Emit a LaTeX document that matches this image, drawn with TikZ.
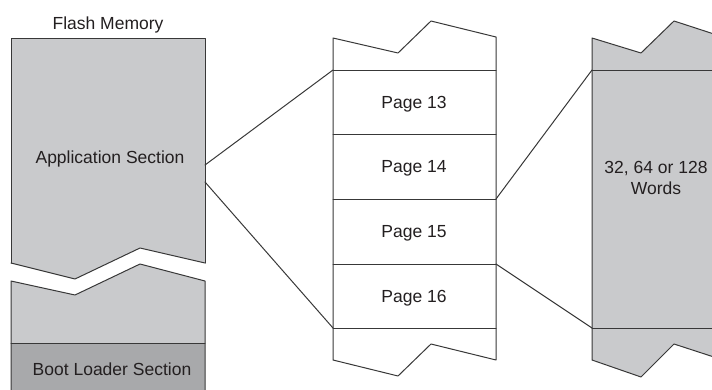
\documentclass[tikz,border=0pt]{standalone}
\usepackage{fontspec}
\setmainfont{Liberation Sans}
\definecolor{flashgray}{HTML}{C9CACC}
\definecolor{bootgray}{HTML}{A8A9AB}
\definecolor{edgegray}{HTML}{383838}
\definecolor{inkgray}{HTML}{231F20}
\begin{document}
\begin{tikzpicture}[line cap=round, line join=round, x=1pt, y=-1pt, font=\fontsize{17.5}{21}\selectfont]
	\tikzset{edge/.style={draw=edgegray, line width=1pt},
		lbl/.style={inner sep=0pt, anchor=base, text=inkgray}}
	\useasboundingbox (0,0) rectangle (712,389);
	\clip (0,0) rectangle (712,389);
	% flash memory column
	\fill[flashgray] (11,38)--(205,38)--(205,263)--(140,248)--(75,279)--(11,263)--cycle;
	\draw[edge] (11,263)--(11,38)--(205,38)--(205,263);
	\draw[edge] (11,263)--(75,279)--(140,248)--(205,263);
	\fill[flashgray] (11,281)--(75,295)--(140,264)--(205,281)--(205,343)--(11,343)--cycle;
	\fill[bootgray] (11,343) rectangle (205,395);
	\draw[edge] (11,395)--(11,281)--(75,295)--(140,264)--(205,281)--(205,395);
	\draw[edge] (11,343)--(205,343);
	\node[lbl] (flash) at (108,29) {Flash Memory};
	\node[lbl] (app) at (110,163) {Application Section};
	\node[lbl] (boot) at (112,375) {Boot Loader Section};
	% page column
	\draw[edge, fill=white] (333,38)--(398,53)--(431,21)--(496,37)--(496,360)--(431,344)--(398,376)--(333,360)--cycle;
	\foreach \y in {70,134,199,264,328}
		\draw[edge] (333,\y)--(496,\y);
	\foreach \n/\y in {13/108,14/172,15/237,16/302}
		\node[lbl] (page\n) at (414,\y) {Page \n};
	% words column
	\draw[edge, fill=flashgray] (760,49)--(674,21)--(641,53)--(592,38)--(592,360)--(641,377)--(674,344)--(760,372)--cycle;
	\draw[edge] (592,70)--(720,70);
	\draw[edge] (592,328)--(720,328);
	\node[lbl, align=center] (words) at (656,194) {32, 64 or 128\\Words};
	% zoom lines
	\coordinate (appA) at (205,165);
	\coordinate (appB) at (205,182);
	\coordinate (pgTop) at (333,70);
	\coordinate (pgBot) at (333,328);
	\coordinate (pgA) at (496,199);
	\coordinate (pgB) at (496,264);
	\coordinate (wdTop) at (592,70);
	\coordinate (wdBot) at (592,328);
	\draw[edge] (appA)--(pgTop);
	\draw[edge] (appB)--(pgBot);
	\draw[edge] (pgA)--(wdTop);
	\draw[edge] (pgB)--(wdBot);
\end{tikzpicture}
\end{document}
